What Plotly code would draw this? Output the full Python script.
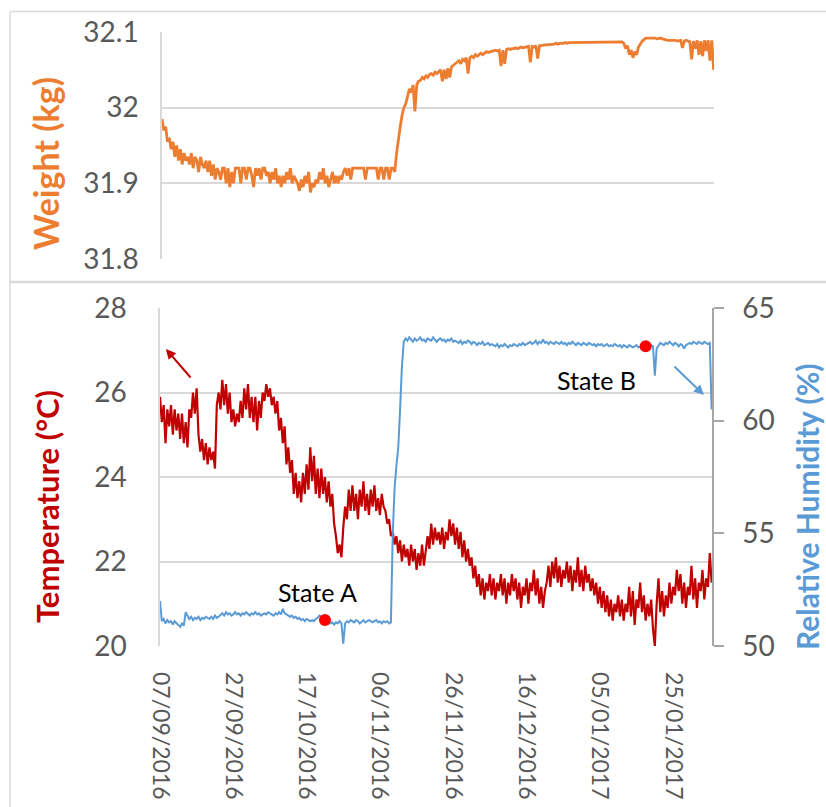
import pandas as pd
import plotly.graph_objects as go

# ---- logged series, one reading every 12 hours from 07/09/2016 ----
START = pd.Timestamp("2016-09-07")
SPAN_DAYS = 150.6

weight_kg = [
    31.985, 31.97, 31.975, 31.955, 31.96, 31.945,
    31.955, 31.935, 31.95, 31.93, 31.945, 31.925, 31.94, 31.93, 31.935,
    31.925, 31.94, 31.92, 31.935, 31.93, 31.915, 31.935, 31.925, 31.92, 31.93,
    31.915, 31.93, 31.91, 31.925, 31.905, 31.92, 31.915, 31.905, 31.92,
    31.92, 31.9, 31.92, 31.895, 31.915, 31.9, 31.92, 31.92, 31.92, 31.9, 31.92,
    31.92, 31.905, 31.92, 31.92, 31.91, 31.895, 31.92, 31.91, 31.92, 31.905, 31.92,
    31.92, 31.91, 31.915, 31.9, 31.915, 31.905, 31.92, 31.9, 31.91, 31.895,
    31.91, 31.9, 31.915, 31.905, 31.92, 31.9, 31.91, 31.905,
    31.9, 31.89, 31.905, 31.895, 31.91, 31.9, 31.915, 31.888, 31.9, 31.895, 31.905,
    31.9, 31.915, 31.905, 31.92, 31.9, 31.91, 31.895, 31.905, 31.915, 31.9, 31.91,
    31.9, 31.91, 31.905, 31.915, 31.92, 31.91, 31.92, 31.905, 31.92, 31.92, 31.92,
    31.92, 31.92, 31.92, 31.92, 31.905, 31.92, 31.92, 31.92, 31.92, 31.92, 31.92,
    31.905, 31.92, 31.92, 31.905, 31.92, 31.92, 31.905, 31.92, 31.92, 31.915,
    31.94, 31.96, 31.975, 31.99, 32.0, 32.005, 32.015,
    32.025, 32.02, 32.03, 31.995, 32.03, 32.035,
    32.036, 32.04, 32.038, 32.042, 32.04, 32.044, 32.045, 32.043, 32.047, 32.045,
    32.048, 32.05, 32.035, 32.05, 32.038, 32.052, 32.04, 32.054, 32.056, 32.058,
    32.06, 32.062, 32.058, 32.064, 32.062, 32.066, 32.045, 32.066, 32.068, 32.066,
    32.07, 32.068, 32.07, 32.072, 32.07, 32.072, 32.074, 32.073, 32.074, 32.075,
    32.075, 32.076, 32.075, 32.076, 32.055, 32.076, 32.058, 32.077, 32.078, 32.077,
    32.078, 32.078, 32.079, 32.078, 32.079, 32.08, 32.079, 32.08, 32.08, 32.081,
    32.06, 32.081, 32.08, 32.082, 32.065, 32.082, 32.082, 32.083, 32.083, 32.083,
    32.083, 32.084, 32.084, 32.084, 32.085, 32.084, 32.085, 32.085, 32.085, 32.086,
    32.085, 32.086, 32.086, 32.086, 32.086, 32.087, 32.086, 32.087, 32.087, 32.087,
    32.087, 32.087, 32.087, 32.087, 32.087, 32.087, 32.087, 32.087, 32.087, 32.087,
    32.087, 32.087, 32.087, 32.087, 32.087, 32.087, 32.087, 32.087, 32.087, 32.087,
    32.087,
    32.085, 32.078, 32.082, 32.07, 32.076, 32.066, 32.074, 32.07, 32.08, 32.085,
    32.088, 32.09, 32.092, 32.092, 32.092, 32.092, 32.092, 32.092, 32.091, 32.092,
    32.092, 32.091, 32.09,
    32.089, 32.089, 32.089, 32.089, 32.089, 32.089, 32.088, 32.089, 32.089, 32.079,
    32.088, 32.089, 32.088,
    32.087, 32.064, 32.088, 32.078, 32.089, 32.07, 32.088, 32.068, 32.089, 32.075,
    32.089, 32.062, 32.089,
    32.05,
]

temperature_c = [
    25.9, 25.3, 25.7, 24.8, 25.6,
    25.2, 25.7, 25.0, 25.6, 25.1, 25.5,
    24.9, 25.5, 24.8, 25.3, 24.7, 25.6,
    25.4, 26.0, 25.5, 26.1,
    25.0, 24.6,
    24.9, 24.4, 24.8, 24.3, 24.7, 24.4, 24.6, 24.2,
    25.7, 26.0,
    25.6, 26.3, 25.7, 26.2, 25.5, 26.0,
    25.3, 25.6, 25.2, 25.5, 25.3, 25.8,
    25.4, 26.1, 25.6, 26.2, 25.4, 25.9, 25.3,
    25.9, 25.1, 25.8, 25.4, 26.0,
    25.8, 26.2, 25.9, 26.1,
    25.7, 25.9, 25.5, 25.8, 25.1, 25.4,
    24.8, 25.2, 24.3, 24.7, 24.1,
    24.4, 23.6, 24.1, 23.5, 23.9,
    23.4, 24.1, 23.6, 24.3, 23.7, 24.7, 23.9, 24.5, 23.6, 24.2,
    23.5, 24.2, 23.6, 24.0, 23.4, 23.9, 23.3, 23.6,
    22.9, 22.6, 22.2, 22.4, 22.1,
    22.8, 23.3, 23.0, 23.7, 23.2,
    23.8, 23.2, 23.6, 23.0, 23.7, 23.3, 23.9, 23.2, 23.6, 23.1,
    23.7, 23.3, 23.8, 23.2, 23.5, 23.1, 23.6, 23.3, 23.2,
    22.9, 23.0, 22.6, 22.7, 22.4,
    22.6, 22.2, 22.5, 22.0, 22.4, 22.1, 22.3, 21.9, 22.4, 22.0,
    22.3, 21.8, 22.2, 21.9, 22.4, 21.9, 22.3,
    22.6, 22.3, 22.9, 22.4, 22.8, 22.5, 22.7,
    22.4, 22.8, 22.3, 22.7, 22.5, 23.0, 22.6, 22.9, 22.4, 22.8,
    22.3, 22.7, 22.1, 22.5, 22.0,
    22.3, 21.9, 22.1, 21.6, 21.9, 21.4, 21.7, 21.2, 21.6, 21.1, 21.5,
    21.3, 21.7, 21.2, 21.6, 21.1, 21.5, 21.3, 21.7, 21.2, 21.6, 21.0, 21.5, 21.2, 21.7, 21.3, 21.6,
    21.1, 21.5, 20.9, 21.4, 21.2, 21.6, 21.0, 21.5, 21.3, 21.8, 21.2, 21.6, 21.0, 21.4, 20.9, 21.3,
    21.5, 21.9, 21.4, 22.0, 21.6, 22.1, 21.5, 21.9, 21.4, 21.8, 21.6, 22.0, 21.5, 21.9, 21.3, 21.8, 21.5, 22.1,
    21.4, 21.8, 21.3, 21.9, 21.5, 21.7, 21.3, 21.6,
    21.2, 21.5, 21.0, 21.4, 20.9, 21.3, 20.8, 21.2, 20.7, 21.1, 20.6, 21.0, 20.8, 21.2, 20.7, 21.1, 20.6, 21.0,
    20.8, 21.4, 20.7, 21.3, 20.5, 21.1, 20.9, 21.5, 20.8, 21.2, 20.6, 21.0, 20.7, 21.1,
    20.4, 20.0,
    21.0, 21.6, 20.8, 21.3, 20.7, 21.2, 20.9, 21.5, 21.0, 21.4,
    21.2, 21.8, 21.3, 21.7, 21.0, 21.5, 20.9, 21.4, 21.2, 21.9, 21.1, 21.6, 20.9, 21.5, 21.3, 21.8, 21.1, 21.6, 21.4,
    22.2, 21.5,
]

humidity_pct = [
    52.0, 51.1, 51.2, 51.0, 51.15, 51.05, 51.1, 50.95, 51.1, 51.0, 50.95, 50.85, 51.0, 50.9,
    51.5, 51.35,
    51.2, 51.3, 51.15, 51.25, 51.2, 51.3, 51.15, 51.25, 51.2, 51.3, 51.25, 51.2, 51.3, 51.2, 51.35, 51.25, 51.3,
    51.4, 51.45, 51.35, 51.5, 51.4, 51.45, 51.35, 51.4, 51.5, 51.4, 51.45, 51.35, 51.45, 51.4, 51.5, 51.4,
    51.35, 51.45, 51.4, 51.5, 51.4, 51.45, 51.35, 51.4, 51.45, 51.4, 51.5, 51.45, 51.4, 51.35, 51.45, 51.4,
    51.5, 51.4, 51.65, 51.45, 51.4, 51.35,
    51.3, 51.35, 51.25, 51.3, 51.2, 51.25, 51.15, 51.2, 51.1, 51.2, 51.15, 51.1, 51.15, 51.1,
    51.2, 51.25, 51.35, 51.3, 51.25, 51.15,
    51.05, 51.1, 51.0, 51.05, 50.95, 51.05, 51.0, 51.1, 51.0,
    50.1,
    51.0, 51.1, 51.05, 51.15, 51.1, 51.05, 51.15, 51.1, 51.0, 51.1, 51.15, 51.05, 51.1,
    51.15, 51.1, 51.05, 51.1, 51.15, 51.05, 51.1, 51.0, 51.1, 51.05, 51.1, 51.0, 51.05,
    55.0, 57.0, 58.0, 58.8, 60.5, 62.4, 63.5,
    63.65, 63.55, 63.7, 63.6, 63.5, 63.65, 63.55, 63.6, 63.7, 63.55, 63.6, 63.5, 63.65, 63.6,
    63.55, 63.7, 63.6, 63.5, 63.6, 63.65, 63.55, 63.6, 63.5, 63.6, 63.55, 63.65, 63.5, 63.55,
    63.5, 63.45, 63.55, 63.4, 63.5, 63.45, 63.55, 63.5, 63.4, 63.5,
    63.45, 63.35, 63.45, 63.4, 63.5, 63.35, 63.4, 63.45, 63.35, 63.4,
    63.35, 63.3, 63.4, 63.25, 63.35, 63.3, 63.4, 63.3, 63.25, 63.35,
    63.3, 63.4, 63.35, 63.3, 63.4, 63.35, 63.45, 63.35, 63.4, 63.45,
    63.5, 63.4, 63.45, 63.55, 63.4, 63.5, 63.45, 63.6, 63.45, 63.5,
    63.4, 63.5, 63.45, 63.4, 63.5, 63.45, 63.4, 63.5, 63.4, 63.45,
    63.35, 63.45, 63.4, 63.5, 63.4, 63.35, 63.45, 63.4, 63.35, 63.45,
    63.4, 63.35, 63.45, 63.4, 63.35, 63.4, 63.3, 63.4, 63.35, 63.4, 63.3,
    63.35, 63.4, 63.3, 63.35, 63.3, 63.4, 63.35, 63.3, 63.35, 63.25,
    63.35, 63.3, 63.25, 63.35, 63.3, 63.25, 63.3, 63.35, 63.25, 63.3, 63.25, 63.3,
    63.3, 63.35, 63.3, 63.35, 63.3, 62.0,
    63.2, 63.35, 63.45, 63.4, 63.35, 63.45, 63.4, 63.5, 63.4, 63.35,
    63.45, 63.4, 63.3, 63.4, 63.35, 63.2, 63.35, 63.4, 63.45, 63.4,
    63.5, 63.45, 63.4, 63.5, 63.45, 63.4, 63.5, 63.45, 63.4, 63.45,
    60.5,
]

# readings marked as the two states
state_labels = ["State A", "State B"]
state_index = [90, 265]

# axis ticks
weight_ticks = [31.8, 31.9, 32.0, 32.1]
weight_ticktext = ["31.8", "31.9", "32", "32.1"]
temp_ticks = [20, 22, 24, 26, 28]
rh_ticks = [50, 55, 60, 65]
date_ticks = pd.date_range(START, periods=8, freq="20D")

COL_W = "#ED7D31"
COL_T = "#C00000"
COL_RH = "#5B9BD5"
GRID = "#D9D9D9"
TXT = "#595959"
FONT = "Lato"

W, H = 826, 807


def px_x(x):
    return x / W


def px_y(y):
    return 1 - y / H


def times(n):
    return pd.date_range(START, periods=n, freq="12h")


t_w = times(len(weight_kg))
t_t = times(len(temperature_c))
t_rh = times(len(humidity_pct))
x_range = [START, START + pd.Timedelta(days=SPAN_DAYS)]

fig = go.Figure()
fig.add_trace(go.Scatter(x=t_w, y=weight_kg, mode="lines",
                         line=dict(color=COL_W, width=2.8), xaxis="x", yaxis="y"))
fig.add_trace(go.Scatter(x=t_t, y=temperature_c, mode="lines",
                         line=dict(color=COL_T, width=2.2), xaxis="x2", yaxis="y2"))
fig.add_trace(go.Scatter(x=t_rh, y=humidity_pct, mode="lines",
                         line=dict(color=COL_RH, width=2), xaxis="x2", yaxis="y3"))
fig.add_trace(go.Scatter(x=[t_rh[i] for i in state_index],
                         y=[humidity_pct[i] for i in state_index], mode="markers",
                         marker=dict(color="#FF0000", size=12), xaxis="x2", yaxis="y3"))

tick_font = dict(family=FONT, size=28, color=TXT)

fig.update_layout(
    width=W, height=H,
    margin=dict(l=0, r=0, t=0, b=0, autoexpand=False),
    paper_bgcolor="white", plot_bgcolor="white",
    showlegend=False, hovermode=False,
    xaxis=dict(domain=[px_x(162), px_x(714)], anchor="y", range=x_range,
               showticklabels=False, showgrid=False, zeroline=False, showline=False),
    yaxis=dict(domain=[px_y(259), px_y(32)], anchor="x", range=[31.8, 32.1],
               tickvals=weight_ticks, ticktext=weight_ticktext, tickfont=tick_font,
               showgrid=True, gridcolor=GRID, gridwidth=1.5, zeroline=False,
               showline=True, linecolor=GRID, linewidth=1.5, ticks="",
               ticklabelstandoff=16),
    xaxis2=dict(domain=[px_x(160), px_x(712)], anchor="y2", range=x_range,
                tickvals=date_ticks, tickformat="%d/%m/%Y", tickangle=90,
                tickfont=dict(family=FONT, size=23, color=TXT),
                showgrid=False, zeroline=False, showline=False, ticks="",
                ticklabelstandoff=25),
    yaxis2=dict(domain=[px_y(646), px_y(308)], anchor="x2", range=[20, 28],
                tickvals=temp_ticks, tickfont=tick_font,
                showgrid=True, gridcolor=GRID, gridwidth=1.5, zeroline=False,
                showline=True, linecolor=GRID, linewidth=1.5, ticks="",
                ticklabelstandoff=26),
    yaxis3=dict(overlaying="y2", anchor="x2", side="right", range=[50, 65],
                tickvals=rh_ticks, tickfont=tick_font,
                showgrid=False, zeroline=False,
                showline=True, linecolor="#A6A6A6", linewidth=1.5,
                ticks="outside", ticklen=10, tickcolor="#A6A6A6", tickwidth=1.5,
                ticklabelstandoff=13),
)

# axis titles
title_common = dict(xref="paper", yref="paper", textangle=-90, showarrow=False,
                    xanchor="center", yanchor="middle")
fig.add_annotation(text="Weight (kg)", x=px_x(45), y=px_y(164),
                   font=dict(family=FONT, color=COL_W, size=34, weight="bold"),
                   **title_common)
fig.add_annotation(text="Temperature (°C)", x=px_x(47), y=px_y(507),
                   font=dict(family=FONT, color=COL_T, size=31, weight="bold"),
                   **title_common)
fig.add_annotation(text="Relative Humidity (%)", x=px_x(807), y=px_y(507),
                   font=dict(family=FONT, color=COL_RH, size=30, weight="bold"),
                   **title_common)

# state labels
fig.add_annotation(text=state_labels[0], xref="x2", yref="y2",
                   x=START + pd.Timedelta(days=43.1), y=21.28, showarrow=False,
                   xanchor="center", yanchor="middle",
                   font=dict(family=FONT, size=25, color="black"))
fig.add_annotation(text=state_labels[1], xref="x2", yref="y3",
                   x=START + pd.Timedelta(days=119.2), y=61.8, showarrow=False,
                   xanchor="center", yanchor="middle",
                   font=dict(family=FONT, size=25, color="black"))

# arrows pointing to each series' own axis
fig.add_annotation(text="", xref="x2", yref="y2",
                   x=START + pd.Timedelta(days=1.6), y=27.03,
                   ax=26, ay=30, showarrow=True, arrowhead=2, arrowsize=1,
                   arrowwidth=2, arrowcolor=COL_T)
fig.add_annotation(text="", xref="x2", yref="y3",
                   x=START + pd.Timedelta(days=148.4), y=61.14,
                   ax=-31, ay=-30, showarrow=True, arrowhead=2, arrowsize=1,
                   arrowwidth=2, arrowcolor=COL_RH)

# chart frames
frame = dict(color="#D9D9D9", width=1.5)
fig.add_shape(type="line", xref="paper", yref="paper",
              x0=px_x(10), x1=1, y0=px_y(11.5), y1=px_y(11.5), line=frame)
fig.add_shape(type="line", xref="paper", yref="paper",
              x0=px_x(10), x1=px_x(10), y0=px_y(11.5), y1=0, line=frame)
fig.add_shape(type="line", xref="paper", yref="paper",
              x0=px_x(10), x1=1, y0=px_y(282), y1=px_y(282),
              line=dict(color="#D9D9D9", width=2.5))

fig.write_html("out.html")
